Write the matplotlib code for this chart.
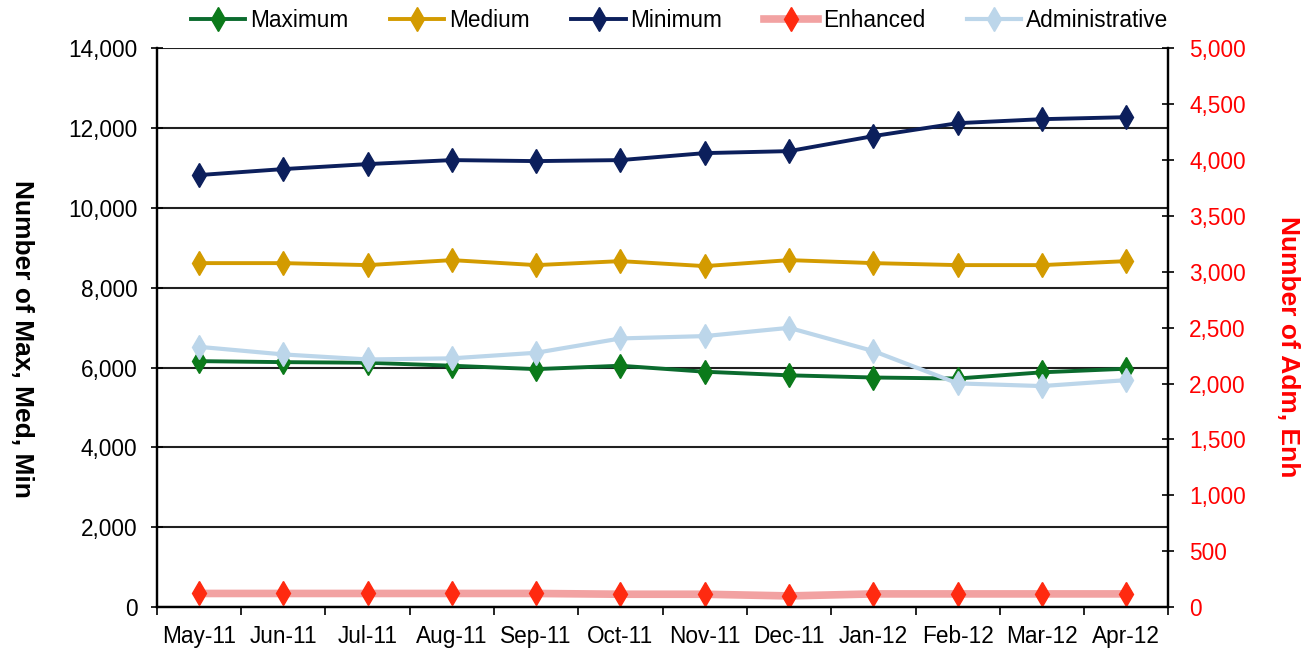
import matplotlib
matplotlib.use('Agg')
import matplotlib.pyplot as plt
from matplotlib.ticker import FuncFormatter, MultipleLocator

plt.rcParams['font.family'] = ['Liberation Sans', 'DejaVu Sans']

months = ['May-11', 'Jun-11', 'Jul-11', 'Aug-11', 'Sep-11', 'Oct-11',
          'Nov-11', 'Dec-11', 'Jan-12', 'Feb-12', 'Mar-12', 'Apr-12']

# left axis series
maximum = [6160, 6135, 6120, 6045, 5960, 6045, 5895, 5805, 5750, 5725, 5880, 5970]
medium = [8615, 8615, 8565, 8690, 8565, 8665, 8540, 8690, 8615, 8565, 8565, 8665]
minimum = [10820, 10970, 11095, 11195, 11170, 11195, 11370, 11420, 11796, 12120, 12220, 12270]

# right axis series
enhanced = [122, 122, 122, 122, 122, 115, 115, 100, 118, 118, 118, 118]
administrative = [2328, 2260, 2215, 2225, 2275, 2403, 2424, 2498, 2290, 2001, 1977, 2030]

FS = 16.3

fig = plt.figure(figsize=(13.07, 6.5), dpi=100)
ax = fig.add_axes([0.120, 0.066, 0.774, 0.860])
ax2 = ax.twinx()

x = list(range(len(months)))
thousands = FuncFormatter(lambda v, p: f'{v:,.0f}')
mk = dict(marker='d', ms=12)

# series drawn on the left axis
ax.plot(x, maximum, color='#0b6b2e', lw=2.8, mfc='#0b7a1a', mec='#0b7a1a',
        label='Maximum', **mk)
ax.plot(x, medium, color='#d39b00', lw=2.8, mfc='#d39b00', mec='#d39b00',
        label='Medium', **mk)
ax.plot(x, minimum, color='#0c1f5c', lw=2.8, mfc='#0c1f5c', mec='#0c1f5c',
        label='Minimum', **mk)

# series drawn on the right axis
ax2.plot(x, enhanced, color='#f2a2a2', lw=5.5, mfc='#ff2a10', mec='#ff2a10',
         label='Enhanced', **mk)
ax2.plot(x, administrative, color='#bcd6ea', lw=3, mfc='#bcd6ea', mec='#bcd6ea',
         label='Administrative', **mk)

ax.set_xlim(-0.5, len(months) - 0.5)
ax.set_ylim(0, 14000)
ax2.set_ylim(0, 5000)
ax.yaxis.set_major_locator(MultipleLocator(2000))
ax2.yaxis.set_major_locator(MultipleLocator(500))
ax.yaxis.set_major_formatter(thousands)
ax2.yaxis.set_major_formatter(thousands)

# x ticks sit on category boundaries, labels at centers
ax.set_xticks([i - 0.5 for i in range(len(months) + 1)])
ax.set_xticklabels([])
ax.set_xticks(x, minor=True)
ax.set_xticklabels(months, minor=True, fontsize=FS)
ax.tick_params(axis='x', which='minor', length=0, pad=13)
ax.tick_params(axis='x', which='major', length=6, width=1.2, direction='out')

ax.tick_params(axis='y', direction='inout', length=8, width=1.2, labelsize=FS, pad=10)
ax2.tick_params(axis='y', direction='inout', length=8, width=1.2, labelsize=FS,
                pad=11, colors='black', labelcolor='#ff0000')

ax.yaxis.grid(True, color='#202020', lw=1.5)
ax.set_axisbelow(True)

for a in (ax, ax2):
    a.spines['top'].set_visible(False)
    for s in ('left', 'right', 'bottom'):
        a.spines[s].set_linewidth(1.6)

ax.set_ylabel('Number of Max, Med, Min', fontsize=19, fontweight='bold', rotation=270,
              va='center')
ax.yaxis.set_label_coords(-0.133, 0.48)
ax2.set_ylabel('Number of Adm, Enh', fontsize=19, fontweight='bold',
               color='#ff0000', rotation=270, va='center')
ax2.yaxis.set_label_coords(1.118, 0.465)

h1, l1 = ax.get_legend_handles_labels()
h2, l2 = ax2.get_legend_handles_labels()
fig.legend(h1 + h2, l1 + l2, loc='center', bbox_to_anchor=(0.520, 0.968), ncol=5,
           frameon=False, fontsize=FS, handlelength=2.4, columnspacing=1.85,
           handletextpad=0.2)

fig.savefig('out.png', dpi=100)
